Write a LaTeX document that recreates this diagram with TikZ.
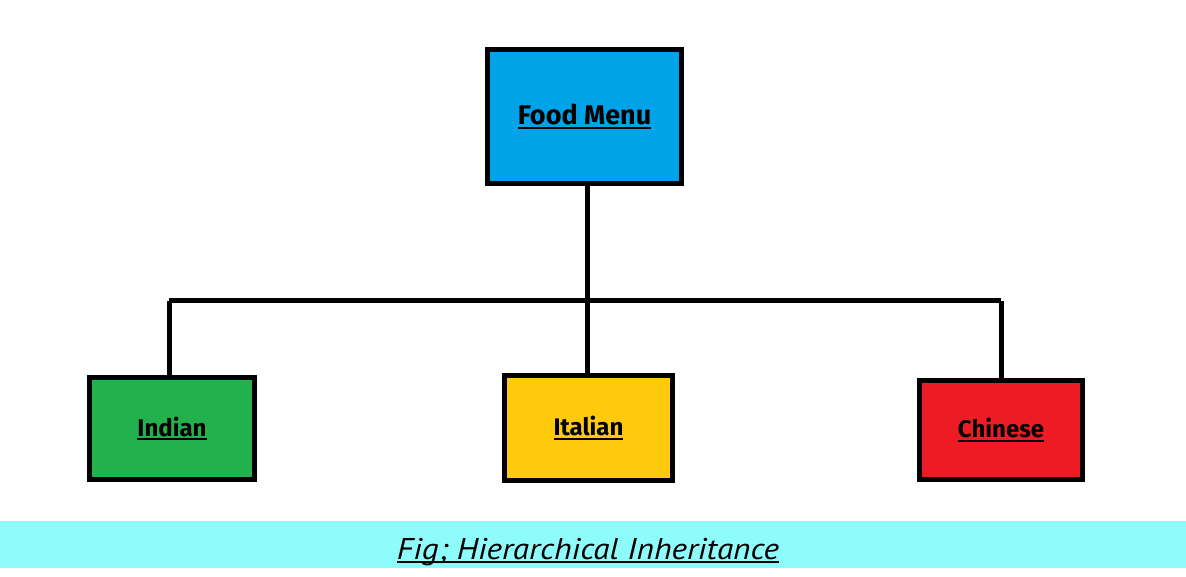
\documentclass[tikz,border=0pt]{standalone}
\usepackage{fontspec}
\setmainfont{Fira Sans}
\newfontfamily\capfont{PT Sans}
\definecolor{fmblue}{HTML}{00A2E8}
\definecolor{ingreen}{HTML}{22B14C}
\definecolor{ityellow}{HTML}{FFC90E}
\definecolor{chred}{HTML}{ED1C24}
\definecolor{band}{HTML}{8EFCFA}
\newcommand\ulbox[3]{\setbox0\hbox{#1}\rlap{\usebox0}\rule[#2]{\wd0}{#3}}
\tikzset{
  box/.style={draw=black, line width=5pt, inner sep=0pt, font=\bfseries\fontsize{24}{28}\selectfont},
  conn/.style={draw=black, line width=5pt, line join=round}
}
\begin{document}
\begin{tikzpicture}[x=1pt,y=-1pt]
\useasboundingbox (0,0) rectangle (1186,577);
\fill[white] (0,0) rectangle (1186,577);
\fill[band] (0,521) rectangle (1186,568);
\node[box, fill=fmblue, minimum width=194pt, minimum height=134pt, font=\bfseries\fontsize{27}{32}\selectfont] (fm) at (584.5,116.5) {\ulbox{Food Menu}{-5pt}{2.5pt}};
\node[box, fill=ingreen, minimum width=165pt, minimum height=102pt] (in) at (172,428.5) {\ulbox{Indian}{-4pt}{2pt}};
\node[box, fill=ityellow, minimum width=168pt, minimum height=105pt] (it) at (588.5,428) {\ulbox{Italian}{-4pt}{2pt}};
\node[box, fill=chred, minimum width=163pt, minimum height=99pt] (ch) at (1001,430) {\ulbox{Chinese}{-4pt}{2pt}};
\coordinate (jl) at (169,301);
\coordinate (jm) at (587,301);
\coordinate (jr) at (1001,301);
\draw[conn] (jl) -- (jr);
\draw[conn] (fm.south -| jm) -- (it.north -| jm);
\draw[conn] (jl) -- (in.north -| jl);
\draw[conn] (jr) -- (ch.north);
\node[font=\capfont\itshape\fontsize{30}{34}\selectfont, xscale=1.11] (cap) at (588,552) {\ulbox{Fig; Hierarchical Inheritance}{-4pt}{2pt}};
\end{tikzpicture}
\end{document}
